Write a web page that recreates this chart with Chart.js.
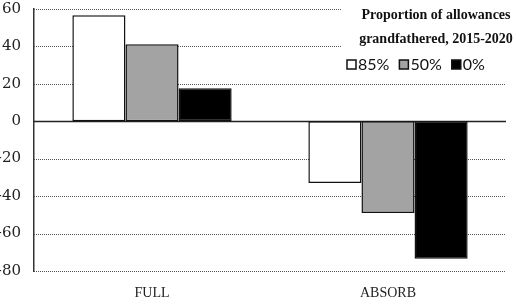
<!DOCTYPE html>
<html lang="en">
<head>
<meta charset="UTF-8">
<title>Proportion of allowances grandfathered</title>
<style>
  html, body { margin: 0; padding: 0; background: #fff; }
  #wrap { width: 528px; height: 306px; }
</style>
</head>
<body>
<div id="wrap"><canvas id="chart" width="528" height="306"></canvas></div>
<script src="https://cdn.jsdelivr.net/npm/chart.js"></script>
<script>
// data
const categories = ['FULL', 'ABSORB'];
const seriesNames = ['85%', '50%', '0%'];
const share85 = [56.5, -33];
const share50 = [41, -49];
const share0 = [17.5, -73.5];
const yTicks = [60, 40, 20, 0, -20, -40, -60, -80];
const legendTitle = ['Proportion of allowances', 'grandfathered, 2015-2020'];

const fills = ['#ffffff', '#a3a3a3', '#000000'];

// dotted horizontal grid, solid zero line
const dottedGrid = {
  id: 'dottedGrid',
  beforeDatasetsDraw(chart) {
    const ctx = chart.ctx;
    const y = chart.scales.y;
    const area = chart.chartArea;
    ctx.save();
    y.ticks.forEach(t => {
      const py = Math.round(y.getPixelForValue(t.value)) + 0.5;
      ctx.beginPath();
      if (t.value === 0) {
        ctx.setLineDash([]);
        ctx.strokeStyle = '#222';
        ctx.lineWidth = 1.5;
      } else {
        ctx.setLineDash([1, 1]);
        ctx.strokeStyle = '#555';
        ctx.lineWidth = 1;
      }
      ctx.moveTo(area.left, py);
      ctx.lineTo(area.right, py);
      ctx.stroke();
    });
    ctx.restore();
  }
};

// legend drawn inside the plot, top right, like the original
const legendBox = {
  id: 'legendBox',
  beforeDatasetsDraw(chart) {
    const ctx = chart.ctx;
    ctx.save();
    ctx.fillStyle = '#fff';
    ctx.fillRect(341, 9, 187, 65);

    ctx.fillStyle = '#111';
    ctx.font = 'bold 14px "Liberation Serif"';
    ctx.textAlign = 'center';
    ctx.textBaseline = 'middle';
    ctx.fillText(legendTitle[0], 436, 15);
    ctx.fillText(legendTitle[1], 436, 39);

    ctx.textAlign = 'left';
    ctx.font = '16px Lato';
    let x = 347;
    chart.data.datasets.forEach(ds => {
      ctx.fillStyle = ds.backgroundColor;
      ctx.fillRect(x, 60, 9, 9);
      ctx.strokeStyle = '#111';
      ctx.lineWidth = 1.5;
      ctx.strokeRect(x, 60, 9, 9);
      ctx.fillStyle = '#111';
      ctx.fillText(ds.label, x + 11, 65);
      x += 11 + ctx.measureText(ds.label).width + 10;
    });
    ctx.restore();
  }
};

const values = [share85, share50, share0];

new Chart(document.getElementById('chart'), {
  type: 'bar',
  data: {
    labels: categories,
    datasets: seriesNames.map((name, i) => ({
      label: name,
      data: values[i],
      backgroundColor: fills[i],
      borderColor: '#111',
      borderWidth: 1.5,
      borderSkipped: false,
      categoryPercentage: 0.675,
      barPercentage: 1
    }))
  },
  options: {
    responsive: false,
    animation: false,
    layout: { padding: { left: 0, right: 22, top: 2, bottom: 0 } },
    plugins: {
      legend: { display: false },
      tooltip: { enabled: false }
    },
    scales: {
      x: {
        grid: { display: false },
        border: { display: false },
        ticks: {
          color: '#222',
          font: { family: '"Liberation Serif"', size: 14 },
          padding: 6
        },
        afterFit(scale) { scale.height = 35; }
      },
      y: {
        min: -80,
        max: 60,
        afterBuildTicks(scale) {
          scale.ticks = yTicks.map(v => ({ value: v }));
        },
        grid: { display: false },
        border: { display: true, color: '#333', width: 1.5 },
        ticks: {
          color: '#222',
          font: { family: '"DejaVu Serif"', size: 15, lineHeight: 0.5 },
          padding: 5
        },
        afterFit(scale) { scale.width = 34; }
      }
    }
  },
  plugins: [dottedGrid, legendBox]
});
</script>
</body>
</html>
